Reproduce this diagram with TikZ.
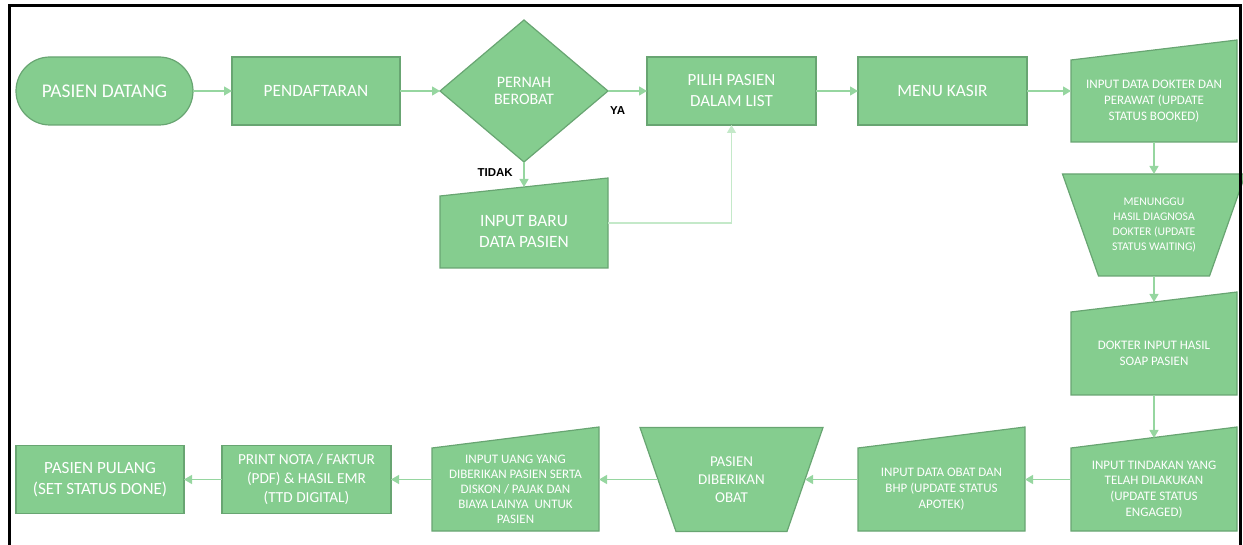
\documentclass[tikz,border=0pt]{standalone}
\usepackage{fontspec}
\setmainfont{Carlito}
\newfontfamily\lblfont{Liberation Sans}
\usepackage{xcolor}
\usepackage{tikz}
\usetikzlibrary{shapes.geometric, arrows.meta, positioning, backgrounds}
\definecolor{boxfill}{RGB}{133,205,143}
\definecolor{boxline}{RGB}{104,165,114}
\definecolor{linegreen}{RGB}{150,214,160}
\definecolor{palegreen}{RGB}{196,233,201}
\newcommand{\fsz}[2]{\fontsize{#1}{#2}\selectfont}

\begin{document}
\begin{tikzpicture}[x=1pt, y=1pt,
    box/.style={draw=boxline, fill=boxfill, line width=1.2pt, align=center, text=white, inner sep=2pt, outer sep=0pt},
    term/.style={box, rounded corners=34pt, minimum width=177pt, minimum height=68pt},
    proc/.style={box, minimum width=169pt, minimum height=68pt},
    dec/.style={box, diamond, aspect=1.18, minimum width=168pt, minimum height=142pt, inner sep=0pt},
    manin/.style={align=center, text=white, minimum width=166pt, minimum height=83pt, inner sep=2pt, outer sep=0pt},
    manop/.style={align=center, text=white, minimum width=183pt, minimum height=104pt, inner sep=2pt, outer sep=0pt},
    boxshape/.style={draw=boxline, fill=boxfill, line width=1.2pt},
    lbl/.style={font=\lblfont\bfseries\fsz{11.5}{13}, text=black, inner sep=0pt},
    arrow/.style={draw=linegreen, line width=1.3pt, -{Triangle[length=8pt, width=9pt]}}
]
    \useasboundingbox (0,0) rectangle (1243,544);

    % Top row
    \node[term, font=\fsz{19.4}{23}] (datang) at (104.5,453) {PASIEN DATANG};
    \node[proc, right=39pt of datang, minimum width=168pt, font=\fsz{17.3}{21}] (daftar) {PENDAFTARAN};
    \node[dec, right=40pt of daftar, font=\fsz{16}{17.5}] (pernah) {PERNAH\\BEROBAT};
    \node[proc, right=39pt of pernah, font=\fsz{17}{21}] (pilih) {PILIH PASIEN\\DALAM LIST};
    \node[proc, right=42pt of pilih, font=\fsz{17.3}{21}] (kasir) {MENU KASIR};
    \node[manin, right=44pt of kasir, yshift=-10pt, minimum height=82pt, font=\fsz{13}{16}] (dokter) {INPUT DATA DOKTER DAN\\PERAWAT (UPDATE\\STATUS BOOKED)};
    \node[manin, below=34pt of pernah, minimum width=168pt, minimum height=72pt, font=\fsz{17.3}{21}] (baru) {INPUT BARU\\DATA PASIEN};

    % Right column
    \node[manop, below=32pt of dokter, minimum height=102pt, font=\fsz{11.7}{15.3}] (tunggu) {MENUNGGU\\HASIL DIAGNOSA\\DOKTER (UPDATE\\STATUS WAITING)};
    \node[manin, below=36pt of tunggu, font=\fsz{13}{16}] (soap) {DOKTER INPUT HASIL\\SOAP PASIEN};
    \node[manin, below=53pt of soap, font=\fsz{13}{15.7}] (tindakan) {INPUT TINDAKAN YANG\\TELAH DILAKUKAN\\(UPDATE STATUS\\ENGAGED)};

    % Bottom row
    \node[manin, left=46pt of tindakan, minimum width=167pt, font=\fsz{13}{16}] (obat) {INPUT DATA OBAT DAN\\BHP (UPDATE STATUS\\APOTEK)};
    \node[manop, left=35pt of obat, yshift=10pt, font=\fsz{15}{18.3}] (diberi) {PASIEN\\DIBERIKAN\\OBAT};
    \node[manin, left=41pt of diberi, yshift=-10pt, minimum width=167pt, font=\fsz{13}{15}] (uang) {INPUT UANG YANG\\DIBERIKAN PASIEN SERTA\\DISKON / PAJAK DAN\\BIAYA LAINYA~ UNTUK\\PASIEN};
    \node[proc, left=41pt of uang, yshift=10pt, font=\fsz{15.3}{19}] (nota) {PRINT NOTA / FAKTUR\\(PDF) \& HASIL EMR\\(TTD DIGITAL)};
    \node[proc, left=38pt of nota, minimum width=168pt, font=\fsz{17.1}{21.7}] (pulang) {PASIEN PULANG\\(SET STATUS DONE)};

    % Manual input and manual operation shapes behind the text
    \begin{pgfonlayer}{background}
        \foreach \n/\r in {baru/18, dokter/20, soap/20, tindakan/21, obat/21, uang/21}
            \draw[boxshape] (\n.south west) -- (\n.south east) -- ([yshift=\r]\n.north east) -- (\n.north west) -- cycle;
        \foreach \n in {tunggu, diberi}
            \draw[boxshape] (\n.north west) -- (\n.north east) -- ([xshift=-36]\n.south east) -- ([xshift=36]\n.south west) -- cycle;
    \end{pgfonlayer}

    % Branch labels
    \node[lbl, anchor=north west] (ya) at ([xshift=2pt, yshift=-15pt]pernah.east) {YA};
    \node[lbl, anchor=north east] (tidak) at ([xshift=-11pt, yshift=-6pt]pernah.south) {TIDAK};

    % Flow
    \draw[arrow] (datang) -- (daftar);
    \draw[arrow] (daftar) -- (pernah);
    \draw[arrow] (pernah) -- (pilih);
    \draw[arrow] (pernah) -- ([yshift=9pt]baru.north);
    \draw[arrow, draw=palegreen] ([yshift=9pt]baru.east) -| (pilih);
    \draw[arrow] (pilih) -- (kasir);
    \draw[arrow] (kasir.east) -- (kasir.east -| dokter.west);
    \draw[arrow] (dokter) -- (tunggu);
    \draw[arrow] (tunggu) -- ([yshift=10pt]soap.north);
    \draw[arrow] (soap) -- ([yshift=10pt]tindakan.north);
    \draw[arrow] ([yshift=10pt]tindakan.west) -- ([yshift=10pt]obat.east);
    \draw[arrow] ([yshift=10pt]obat.west) -- ([xshift=-18pt]diberi.east);
    \draw[arrow] ([xshift=18pt]diberi.west) -- ([yshift=10pt]uang.east);
    \draw[arrow] ([yshift=10pt]uang.west) -- (nota);
    \draw[arrow] (nota) -- (pulang);

    % Frame
    \draw[line width=3.5pt] (9.5,-10) -- (9.5,538.5) -- (1240.5,538.5) -- (1240.5,-10);
\end{tikzpicture}
\end{document}
